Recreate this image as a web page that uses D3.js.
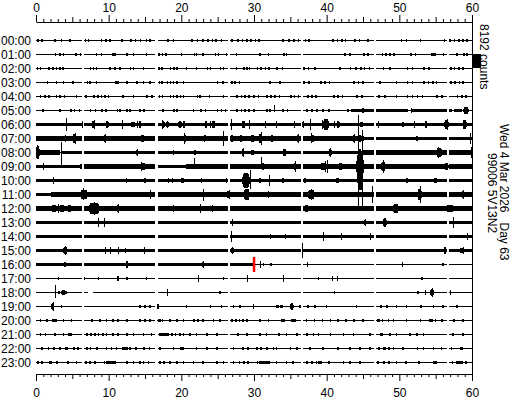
<!DOCTYPE html>
<html><head><meta charset="utf-8">
<script src="https://cdn.jsdelivr.net/npm/d3@7"></script>
<style>
body{margin:0;background:#fff}
svg text{font-family:"Liberation Sans",Arial,sans-serif;font-size:12px;fill:#000;white-space:pre}
</style>
</head><body>
<svg id="c" width="512" height="400"></svg>
<script>
// ---------- data ----------
const hourLabels = d3.range(24).map(h => String(h).padStart(2, "0") + ":00");
const minuteTickLabels = [0, 10, 20, 30, 40, 50, 60];
const scaleCounts = 8192;
const scaleLabel = "8192 counts";
const dateLabel = "Wed 4 Mar 2026   Day 63";
const stationLabel = "99006 5V13N2";
const markerHour = 16, markerMinute = 30.0, markerCounts = 4100;

// data gaps (minute start), common to every hour, plus extra ones
const gapStarts = [6.3, 16.4, 26.4, 36.4, 46.5, 56.5];
const gapWidth = 0.35;
const extraGaps = [[18, 7.2, 7.8]];

// continuous noise band: [hour, fromMin, toMin, halfAmplitudeCounts]
const bands = [
  [5,43.5,51.2,650],[5,51.8,57.2,550],[5,57.5,58.6,400],
  [6,0,60,800],
  [7,0,45.2,900],[7,45.2,57,350],[7,57,60,850],
  [8,0.5,3.3,1100],[8,3.6,45,600],[8,45,60,900],
  [9,0,6,650],[9,6,16.6,950],[9,16.6,20.7,650],[9,20.7,60,950],
  [10,0,28,400],[10,28,50,550],[10,50,60,700],
  [11,0,2,550],[11,2,60,950],
  [12,0,60,950],
  [13,0,60,850],
  [14,0,60,700],
  [15,0,60,650],
  [16,0,29.8,600]
];

// wave packets: [hour, centreMin, durationMin, halfAmplitudeCounts]
const bursts = [
  [1,10.8,0.5,800],[1,54.9,0.5,800],
  [5,45.0,0.4,1100],[5,59.2,0.9,1500],
  [6,7.9,0.6,1500],[6,9.8,0.6,1500],[6,13.3,0.8,1400],[6,14.3,0.5,1500],[6,17.5,0.5,1800],[6,18.1,0.4,2000],[6,19.8,0.6,1800],[6,20.4,0.4,1600],[6,23.4,0.5,1600],[6,24.4,0.6,1800],[6,28.6,0.4,1500],[6,36.8,0.4,1500],[6,39.9,1.0,3000],[6,41.6,0.5,1500],[6,44.8,0.6,1400],[6,50.5,0.5,1400],[6,53.7,0.5,1500],[6,56.5,0.7,2400],[6,59.0,0.7,2200],
  [7,0.8,1.2,1300],[7,5.3,0.6,2200],[7,9.5,0.4,1700],[7,14.7,0.8,1500],[7,20.5,0.6,2000],[7,23.2,0.5,1500],[7,27.0,0.4,1800],[7,28.2,0.5,1800],[7,29.8,0.5,2000],[7,30.9,0.7,2600],[7,32.5,0.6,1600],[7,36.1,0.4,1800],[7,38.1,0.6,2000],[7,43.7,0.3,1700],[7,44.6,0.3,1700],[7,47.5,0.4,700],[7,49.1,0.4,700],[7,51.5,0.5,800],[7,52.4,0.6,900],[7,53.2,0.4,800],[7,55.4,0.4,800],
  [8,0.25,0.6,3500],[8,13.9,0.3,1200],[8,18.9,0.3,1200],[8,21.9,0.3,1200],[8,28.5,0.4,1700],[8,29.8,0.6,1200],[8,34.2,0.6,1500],[8,40.5,0.5,1700],[8,44.5,0.6,2000],[8,55.5,1.0,2500],
  [9,1.0,0.3,1300],[9,14.7,0.9,1700],[9,31.2,0.5,1800],[9,34.0,0.8,1400],[9,35.7,0.4,2000],[9,39.5,0.9,1800],[9,41.9,0.6,1700],[9,44.6,1.2,7600],[9,47.8,0.8,2600],[9,56.5,0.6,1500],
  [10,2.4,0.3,1500],[10,10.8,0.6,800],[10,12.5,0.3,900],[10,15.0,0.5,1100],[10,18.2,0.3,1100],[10,18.8,0.3,1100],[10,20.2,0.8,900],[10,22.8,0.4,900],[10,24.6,0.3,800],[10,26.2,0.3,1100],[10,28.9,1.2,4000],[10,30.8,0.5,1300],[10,34.0,0.4,900],[10,37.0,0.6,1000],[10,41.5,0.5,1100],[10,44.6,0.8,5000],[10,51.0,0.5,900],[10,55.0,0.7,900],
  [11,6.6,1.2,2500],[11,15.7,0.3,1500],[11,26.5,0.8,1800],[11,29.0,1.0,2800],[11,32.0,0.3,1700],[11,37.9,1.2,2200],[11,52.8,0.7,2700],[11,58.8,0.4,1700],
  [12,2.5,1.0,1500],[12,3.6,1.0,1600],[12,4.6,0.8,1500],[12,8.0,2.0,2800],[12,11.3,0.3,1800],[12,37.2,0.8,1500],[12,49.5,1.0,2300],[12,57.0,1.5,1500],
  [13,8.6,0.3,1800],[13,45.3,0.3,1800],[13,48.0,0.6,2300],
  [15,4.0,0.8,1500],[15,27.0,0.6,1400],[15,56.3,0.5,1500],[15,58.6,0.8,1300],
  [16,4.0,0.3,1400],[16,12.5,0.4,1700],[16,23.0,0.3,1700],
  [17,11.3,0.4,1000],
  [18,3.8,0.8,900],[18,54.5,0.6,1900],
  [19,2.3,0.5,2000],[19,16.8,0.4,1200],[19,33.3,0.5,800],[19,33.8,0.4,800],[19,35.2,0.6,1500],
  [20,2.5,0.6,800],[20,7.7,0.4,800],[20,17.0,0.6,800],[20,21.7,0.3,800],[20,34.0,0.5,800],[20,35.5,0.5,800],[20,47.2,0.5,800],[20,54.5,0.4,800],
  [21,4.6,0.4,800],[21,17.5,1.5,700],[21,33.4,0.4,800],[21,46.0,0.4,800],[21,47.5,0.5,800],
  [22,4.2,0.4,800],[22,12.3,0.8,700],[22,20.0,0.5,700],[22,46.0,0.4,800],[22,48.0,0.5,800],[22,58.5,0.5,700],
  [23,2.0,0.5,800],[23,10.2,1.6,700],[23,31.3,1.5,700],[23,39.0,0.6,700],[23,55.0,0.5,700],[23,58.4,0.8,700]
];

// single large swings: [hour, minute, upCounts, downCounts]
const spikes = [
  [5,32.8,3000,600],[5,44.8,1200,1200],[5,51.6,1200,1200],
  [6,4.1,3500,3500],[6,6.3,1800,1800],[6,8.0,2300,2300],[6,11.8,2300,2300],[6,13.9,2000,2000],[6,17.3,2300,2300],[6,20.3,2000,2000],[6,24.0,2000,2000],[6,26.9,2900,2900],[6,28.3,1800,1800],[6,29.3,2300,2300],[6,31.5,1500,1500],[6,33.0,1800,1800],[6,35.5,1500,1500],[6,37.7,2900,2900],[6,39.3,2300,2300],[6,41.0,2000,2000],[6,47.0,1600,1600],[6,52.0,1600,1600],[6,56.5,3000,3000],
  [7,4.0,1500,1500],[7,5.3,3000,3000],[7,9.5,2300,2300],[7,20.3,2800,2800],[7,25.7,4000,4000],[7,30.9,3500,3500],[7,36.1,2500,2500],[7,37.9,2900,2300],[7,43.7,2300,2300],[7,59.7,2900,2900],
  [8,0.1,4000,3500],[8,3.5,5800,7000],[8,13.9,1800,1800],[8,28.5,2500,2500],[8,40.5,2500,2500],[8,55.3,3000,3000],[8,59.8,2900,2900],
  [9,1.0,2000,2000],[9,14.5,2500,2500],[9,21.7,4700,1200],[9,31.0,5300,1200],[9,35.7,2800,2800],[9,39.8,2900,2900],[9,40.0,3800,3800],[9,44.3,29800,26000],[9,44.9,21000,26000],[9,47.8,3300,3300],
  [10,2.4,2000,2000],[10,29.5,5800,4700],[10,32.0,2900,2900],
  [11,6.5,3500,3000],[11,15.7,2300,2300],[11,23.0,2900,3500],[11,26.5,2500,2500],[11,29.2,2900,2900],[11,37.9,3000,3000],[11,46.2,4600,4600],[11,52.8,4600,4600],[11,58.8,2500,2500],
  [12,3.0,2500,2500],[12,8.0,3500,3500],[12,11.3,2500,2500],[12,18.9,1800,1800],[12,22.6,2300,2300],[12,24.2,1800,1800],[12,49.3,2300,2300],
  [13,8.6,2300,2300],[13,9.3,2300,2300],[13,27.0,1800,1800],[13,45.3,1800,1800],[13,47.9,2300,2300],[13,57.4,2900,2900],
  [14,26.9,2900,2900],[14,32.2,1200,1200],[14,34.3,1200,1200],[14,39.5,2300,2300],[14,42.0,1500,1500],[14,46.0,1500,1500],[14,59.3,1500,1500],
  [15,4.0,2300,2300],[15,9.5,1800,1800],[15,10.2,1800,1800],[15,11.3,1800,1800],[15,12.2,1200,1200],[15,14.8,1500,1500],[15,27.0,1800,1800],[15,36.6,4100,4100],[15,58.8,1800,1800],
  [16,30.8,1800,1800],[16,37.3,1200,1200],[16,50.3,900,900],
  [17,22.3,1800,1800],[17,29.0,1800,1800],[17,34.0,1500,1500],[17,40.7,1200,1200],[17,41.4,1200,1200],
  [18,2.6,4100,2900],[18,18.0,1500,1500],[18,53.5,1200,1200],[18,54.5,2300,2300],[18,57.0,1200,1200],
  [19,2.3,2300,2300],[19,29.9,1200,1200]
];

// small wiggles on quiet traces (minute positions), one list per hour
const bumpWidth = 0.22, bumpCounts = 650;
const bumpMinutes = [
  [0.3,0.8,2.6,3.5,4.7,6.8,7.2,9.0,9.6,10.2,11.8,13.1,13.7,14.4,15.2,15.7,18.2,18.9,21.5,22.2,23.0,23.7,24.3,24.8,25.5,27.0,27.8,28.4,29.0,29.6,30.2,30.7,34.0,34.8,35.5,36.1,37.1,37.6,40.9,41.5,42.1,42.6,43.9,44.5,45.7,50.3,51.0,52.9,56.2,57.0,57.6,58.2,58.8,59.3],
  [2.7,3.3,3.8,5.5,6.1,8.3,9.0,10.5,12.5,13.4,15.2,16.9,17.4,17.9,20.0,21.8,22.1,23.0,24.7,25.1,26.2,27.6,30.8,32.0,34.1,34.5,42.5,43.2,45.1,45.7,47.7,48.2,48.7,49.3,51.6,52.2,54.5,56.1,57.9,58.9,59.3],
  [0.2,0.6,1.8,2.3,2.8,3.3,3.7,7.5,7.9,8.3,10.2,10.9,11.6,13.0,13.4,14.8,16.9,17.3,18.5,19.0,19.4,20.7,22.1,23.6,24.0,25.4,25.8,27.6,28.6,29.0,29.4,30.5,31.0,31.6,32.1,33.2,33.9,36.9,37.5,38.4,41.8,43.3,44.0,44.7,45.2,45.9,47.8,48.7,51.1,51.8,53.4,54.1,57.1,57.6,58.2,58.8],
  [1.6,2.8,3.8,5.1,7.1,7.4,8.3,11.0,11.3,12.5,13.9,14.8,15.7,17.0,17.3,18.1,18.5,18.9,19.4,20.3,25.0,25.7,27.0,27.4,28.0,32.2,33.6,36.9,37.6,39.2,39.8,40.4,43.8,44.4,45.0,47.3,49.6,51.1,51.8,53.4,54.0,54.6,55.1,57.1,57.7,58.3,58.8],
  [0.6,1.2,1.8,2.8,3.3,3.9,5.6,6.9,8.0,8.5,9.0,9.5,10.0,12.0,13.4,15.3,16.0,17.0,17.4,18.5,18.9,19.4,19.9,20.3,22.2,22.6,23.9,25.8,27.7,28.3,28.8,29.3,30.0,30.6,31.8,32.3,32.9,33.5,35.1,35.6,36.1,37.4,38.0,38.5,41.0,41.6,42.2,44.2,44.9,47.2,48.0,49.6,51.1,51.8,52.5,53.2,55.2,55.9,58.0,58.6,59.2],
  [1.0,3.3,4.8,5.3,6.0,7.5,8.2,9.1,9.6,11.2,11.6,12.5,12.9,14.3,14.9,17.5,19.0,19.4,21.7,22.7,23.3,25.0,25.5,26.1,27.7,28.3,28.8,29.3,30.0,31.8,32.2,34.0,34.6,37.3,38.0,38.7,39.5,40.3,42.9,43.4],
  [],[],[],[],[],[],[],[],[],[],
  [31.3,32.3,56.0],
  [3.1,6.7,8.6,12.5,15.2,25.8,38.9,53.1],
  [3.2,4.2,25.3,41.1,52.6],
  [3.5,14.3,15.0,15.7,20.7,24.0,25.5,27.2,28.1,36.3,37.4,38.4,40.0,44.1,47.5,48.3,49.6,51.0,53.0,54.7,56.0,57.9],
  [0.6,1.5,2.3,2.8,3.8,4.9,7.7,8.8,9.7,10.6,11.3,12.5,14.3,15.0,15.7,17.4,18.4,19.4,20.3,21.7,22.3,23.0,24.4,25.3,27.0,27.5,28.0,28.5,29.0,30.8,32.0,33.8,35.2,35.7,37.2,38.3,39.4,40.5,41.6,42.7,43.8,45.0,47.0,47.7,48.5,49.2,51.0,52.9,54.2,55.0,55.9,57.5,58.8],
  [0.6,1.3,2.6,3.8,4.9,7.0,7.6,8.1,8.6,9.2,9.7,10.6,11.3,12.5,13.4,14.8,15.9,17.2,17.7,18.2,18.7,19.2,19.8,20.3,21.2,22.1,23.5,24.9,27.8,29.0,30.8,31.7,33.4,34.5,35.9,37.3,38.2,38.9,40.5,42.3,43.7,46.0,47.4,48.7,49.6,51.5,52.4,53.3,57.4,58.8],
  [0.8,1.7,2.5,3.3,4.2,5.2,5.8,7.0,7.5,8.4,9.7,10.4,11.1,12.0,12.9,13.8,14.9,15.6,17.1,18.9,20.3,22.1,23.5,24.9,27.2,28.5,29.2,30.4,31.0,31.8,32.7,33.1,35.0,35.9,37.7,39.5,41.6,43.2,44.6,46.0,47.2,47.9,48.6,49.2,50.5,52.5,53.3,54.7,55.8,57.2,58.4],
  [0.3,0.8,1.9,2.9,4.4,5.6,6.9,7.4,8.1,9.4,9.9,10.4,10.9,12.5,13.4,14.3,14.8,15.5,17.1,17.6,18.4,19.4,20.3,21.7,23.0,24.9,25.8,27.2,28.0,28.6,29.2,30.5,31.0,31.6,32.1,33.1,34.5,35.4,37.3,38.0,38.6,39.3,40.3,42.3,43.2,44.6,47.1,47.9,48.6,49.6,50.9,52.7,54.7,57.3,57.9,58.5,59.2]
];

// ---------- scales ----------
const x = d3.scaleLinear().domain([0, 60]).range([36, 472]);
const row = d3.scaleLinear().domain([0, 23]).range([40, 362]);
const amp = d3.scaleLinear().domain([0, scaleCounts]).range([0, 14]);

const svg = d3.select("#c");
const traces = svg.append("g").attr("shape-rendering", "crispEdges");

function gapsFor(h) {
  const gs = gapStarts.map(s => [s, s + gapWidth]);
  extraGaps.filter(d => d[0] === h).forEach(d => gs.push([d[1], d[2]]));
  return gs;
}
function splitByGaps(h, a, b) {
  let segs = [[Math.max(0, a), Math.min(60, b)]];
  gapsFor(h).forEach(([g0, g1]) => {
    segs = segs.flatMap(([s, e]) => {
      if (g1 <= s || g0 >= e) return [[s, e]];
      const out = [];
      if (g0 > s) out.push([s, g0]);
      if (g1 < e) out.push([g1, e]);
      return out;
    });
  });
  return segs;
}

// baseline + bands + bumps as rectangles
const rects = [];
function addRect(h, a, b, counts) {
  splitByGaps(h, a, b).forEach(([s, e]) => rects.push({h, s, e, counts}));
}
d3.range(24).forEach(h => addRect(h, 0, 60, 0));
bands.forEach(([h, a, b, c]) => addRect(h, a, b, c));
bumpMinutes.forEach((list, h) => list.forEach(m => addRect(h, m - bumpWidth / 2, m + bumpWidth / 2, bumpCounts)));

traces.selectAll("rect.tr").data(rects).join("rect")
  .attr("class", "tr")
  .attr("x", d => x(d.s))
  .attr("width", d => Math.max(1, x(d.e) - x(d.s)))
  .attr("y", d => row(d.h) - amp(d.counts))
  .attr("height", d => 2 * amp(d.counts) + 1)
  .attr("fill", "#000");

// wave packets as spindles
traces.selectAll("polygon.bu").data(bursts).join("polygon")
  .attr("class", "bu")
  .attr("points", ([h, m, w, c]) => {
    const s = x(m - w / 2), e = x(m + w / 2), a = x(m - w / 4), b = x(m + w / 4);
    const top = row(h) - amp(c), bot = row(h) + 1 + amp(c), cy0 = row(h), cy1 = row(h) + 1;
    return [[s, cy0], [a, top], [b, top], [e, cy0], [e, cy1], [b, bot], [a, bot], [s, cy1]].map(p => p.join(",")).join(" ");
  })
  .attr("fill", "#000");

traces.selectAll("rect.sp").data(spikes).join("rect")
  .attr("class", "sp")
  .attr("x", d => Math.round(x(d[1])))
  .attr("width", 1)
  .attr("y", d => row(d[0]) - amp(d[2]))
  .attr("height", d => amp(d[2]) + amp(d[3]) + 1)
  .attr("fill", "#000");

// red marker
svg.append("rect")
  .attr("x", x(markerMinute) - 1.2)
  .attr("width", 2.5)
  .attr("y", row(markerHour) - amp(markerCounts))
  .attr("height", 2 * amp(markerCounts) + 1)
  .attr("fill", "#ff0000");

// ---------- axes ----------
const tickLen = d => d % 10 === 0 ? 7 : (d % 5 === 0 ? 5 : 3);
const yTop = 22, yBot = 374;
const axTop = d3.axisTop(x).tickValues(d3.range(0, 61)).tickSizeOuter(0)
  .tickFormat(d => minuteTickLabels.includes(d) ? d : "");
const gTop = svg.append("g").attr("transform", `translate(0,${yTop})`).call(axTop);
gTop.selectAll(".tick line").attr("y2", d => -tickLen(d));
gTop.selectAll(".tick text").attr("y", -10).attr("dy", 0);

const axBot = d3.axisBottom(x).tickValues(d3.range(0, 61)).tickSizeOuter(0)
  .tickFormat(d => minuteTickLabels.includes(d) ? d : "");
const gBot = svg.append("g").attr("transform", `translate(0,${yBot})`).call(axBot);
gBot.selectAll(".tick line").attr("y2", d => tickLen(d));
gBot.selectAll(".tick text").attr("y", 23).attr("dy", 0);

[gTop, gBot].forEach(g => {
  g.attr("font-family", null).attr("font-size", null);
  g.selectAll("path,line").attr("stroke", "#000");
});

// right frame
svg.append("line")
  .attr("x1", x(60) + 0.5).attr("x2", x(60) + 0.5)
  .attr("y1", yTop).attr("y2", yBot + 0.5)
  .attr("stroke", "#000");

// hour labels
svg.append("g").selectAll("text").data(hourLabels).join("text")
  .attr("x", 31).attr("y", (d, i) => row(i) + 4.5)
  .attr("text-anchor", "end").text(d => d);

// scale bar
svg.append("rect")
  .attr("x", x(60) + 1).attr("width", 8)
  .attr("y", row(1)).attr("height", amp(scaleCounts))
  .attr("fill", "#000");
svg.append("text").attr("transform", `translate(480,24) rotate(90)`).text(scaleLabel);
svg.append("text").attr("transform", `translate(500,124) rotate(90)`).text(dateLabel);
svg.append("text").attr("transform", `translate(488,153) rotate(90)`).text(stationLabel);
</script>
</body></html>
